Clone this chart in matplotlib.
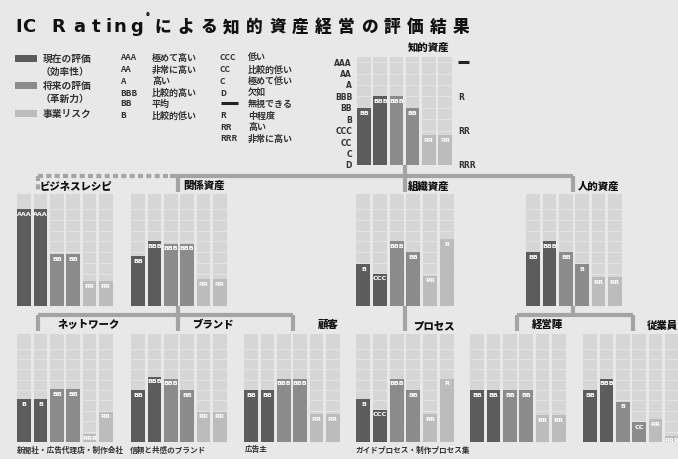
import numpy as np
import matplotlib
matplotlib.use('Agg')
import matplotlib.pyplot as plt
from matplotlib.patches import Rectangle

plt.rcParams['font.family'] = ['Noto Sans CJK JP', 'DejaVu Sans']

W, H = 678, 460

# --- data -------------------------------------------------------------
grade_scale = ['D', 'C', 'CC', 'CCC', 'B', 'BB', 'BBB', 'A', 'AA', 'AAA']
risk_scale = ['RRR', 'RR', 'R', '―']
risk_levels = [0, 3, 6, 9]

grade_codes = ['AAA', 'AA', 'A', 'BBB', 'BB', 'B']
grade_words = ['極めて高い', '非常に高い', '高い', '比較的高い', '平均', '比較的低い']
low_codes = ['CCC', 'CC', 'C', 'D', '―', 'R', 'RR', 'RRR']
low_words = ['低い', '比較的低い', '極めて低い', '欠如', '無視できる', '中程度', '高い', '非常に高い']

legend_names = ['現在の評価', '将来の評価', '事業リスク']
legend_notes = ['（効率性）', '（革新力）', '']

chart_names = ['知的資産', 'ビジネスレシピ', '関係資産', '組織資産', '人的資産',
               'ネットワーク', 'ブランド', '顧客', 'プロセス', '経営陣', '従業員']
chart_labels = [
    ['BB', 'BBB', 'BBB', 'BB', 'RR', 'RR'],
    ['AAA', 'AAA', 'BB', 'BB', 'RR', 'RR'],
    ['BB', 'BBB', 'BBB', 'BBB', 'RR', 'RR'],
    ['B', 'CCC', 'BBB', 'BB', 'RR', 'R'],
    ['BB', 'BBB', 'BB', 'B', 'RR', 'RR'],
    ['B', 'B', 'BB', 'BB', 'RRR', 'RR'],
    ['BB', 'BBB', 'BBB', 'BB', 'RR', 'RR'],
    ['BB', 'BB', 'BBB', 'BBB', 'RR', 'RR'],
    ['B', 'CCC', 'BBB', 'BB', 'RR', 'R'],
    ['BB', 'BB', 'BB', 'BB', 'RR', 'RR'],
    ['BB', 'BBB', 'B', 'CC', 'RR', 'RRR'],
]
chart_values = [
    [5.0, 6.0, 6.0, 5.0, 2.6, 2.6],
    [9.0, 9.0, 4.8, 4.8, 2.3, 2.3],
    [4.6, 6.0, 5.8, 5.8, 2.5, 2.5],
    [3.9, 3.0, 6.0, 5.0, 2.8, 6.2],
    [5.0, 6.0, 5.0, 3.9, 2.7, 2.7],
    [4.1, 4.1, 5.1, 5.1, 0.8, 2.9],
    [5.0, 6.3, 6.1, 5.0, 2.9, 2.9],
    [5.0, 5.0, 6.1, 6.1, 2.7, 2.7],
    [4.1, 3.1, 6.1, 5.0, 2.7, 6.1],
    [5.0, 5.0, 5.0, 5.0, 2.6, 2.6],
    [5.0, 6.1, 3.9, 1.9, 2.2, 0.6],
]
captions = ['新聞社・広告代理店・制作会社', '信頼と共感のブランド', '広告主',
            'ガイドプロセス・制作プロセス集']

# --- layout / style ---------------------------------------------------
PAGE = '#e8e8e8'
COL_BG = '#d6d6d6'
GRID = '#e4e4e4'
DARK, MID, LIGHT = '#5c5c5c', '#8b8b8b', '#bcbcbc'
LINE = '#a4a4a4'
bar_cols = [DARK, DARK, MID, MID, LIGHT, LIGHT]

# pixel boxes (left, top, width, height) and title anchors (left, centre y)
boxes = [(356, 58, 97, 108),
         (16, 195, 98, 112), (130, 195, 98, 112), (355, 195, 100, 112), (525, 195, 98, 112),
         (16, 335, 98, 108), (130, 335, 98, 108), (243, 335, 98, 108),
         (355, 335, 100, 108), (469, 335, 98, 108), (582, 335, 98, 108)]
title_pos = [(408, 48),
             (40, 186), (183, 186), (408, 187), (578, 187),
             (58, 325), (192, 325), (318, 325), (413, 326), (532, 325), (647, 326)]
caption_x = [17, 130, 245, 355]

fig = plt.figure(figsize=(W / 100, H / 100), dpi=100, facecolor=PAGE)
ax0 = fig.add_axes([0, 0, 1, 1])
ax0.set_xlim(0, W)
ax0.set_ylim(H, 0)
ax0.axis('off')
ax0.set_facecolor(PAGE)

# title, letter spaced
latin = ['I', 'C', 'R', 'a', 't', 'i', 'n', 'g']
latin_x = [18.5, 29, 58, 79, 96.5, 108.5, 120, 137]
for ch, x in zip(latin, latin_x):
    ax0.text(x, 27, ch, ha='center', va='center', fontsize=13, weight='bold',
             family='DejaVu Sans', color='#111111')
ax0.text(148, 17, '®', ha='center', va='center', fontsize=5.5, weight='bold')
for i, ch in enumerate('による知的資産経営の評価結果'):
    ax0.text(163 + 22.9 * i, 27, ch, ha='center', va='center', fontsize=12,
             weight='heavy', color='#111111')

# legend swatches
for (y, c), name, note in zip([(59, DARK), (86, MID), (114, LIGHT)], legend_names, legend_notes):
    ax0.add_patch(Rectangle((15, y - 3.5), 22, 7, color=c, lw=0))
    ax0.text(43, y, name, va='center', fontsize=7, weight='bold', color='#333333')
    if note:
        ax0.text(41, y + 13, note, va='center', fontsize=7, weight='bold', color='#333333')

# glossary
rows_y = [58, 70, 81, 93, 104, 116, 127, 139]
for y, code, word in zip(rows_y, grade_codes, grade_words):
    ax0.text(120, y, code, va='center', fontsize=6, weight='bold', color='#333333')
    ax0.text(152, y, word, va='center', fontsize=6.5, weight='bold', color='#333333')
for y, code, word in zip(rows_y, low_codes, low_words):
    if code == '―':
        ax0.plot([221, 238], [y, y], color='#222222', lw=2.2, solid_capstyle='butt')
    else:
        ax0.text(220, y, code, va='center', fontsize=6, weight='bold', color='#333333')
    ax0.text(248, y, word, va='center', fontsize=6.5, weight='bold', color='#333333')

# tree connectors
kw = dict(color=LINE, lw=3, solid_capstyle='butt', zorder=1)
segments = [((405, 166), (405, 177)), ((170, 177), (573, 177)),
            ((178, 177), (178, 193)), ((405, 177), (405, 193)), ((573, 177), (573, 193)),
            ((178, 307), (178, 316)), ((38, 316), (293, 316)),
            ((38, 316), (38, 332)), ((178, 316), (178, 332)), ((293, 316), (293, 332)),
            ((405, 307), (405, 332)),
            ((573, 307), (573, 316)), ((517, 316), (633, 316)),
            ((517, 316), (517, 332)), ((633, 316), (633, 332))]
for (x1, y1), (x2, y2) in segments:
    ax0.plot([x1, x2], [y1, y2], **kw)
ax0.plot([38, 170], [177, 177], color=LINE, lw=3, ls=(0, (1.2, 0.8)), zorder=1)
ax0.plot([38, 38], [177, 193], color=LINE, lw=3, ls=(0, (1.2, 0.8)), zorder=1)

# chart titles and captions
for name, (x, y) in zip(chart_names, title_pos):
    ax0.text(x, y, name, va='center', fontsize=7.5, weight='heavy', color='#111111')
for x, cap in zip(caption_x, captions):
    ax0.text(x, 450, cap, va='center', fontsize=5.5, weight='bold', color='#333333')


def draw_chart(box, values, labels, top):
    left, ytop, w, h = box
    ax = fig.add_axes([left / W, 1 - (ytop + h) / H, w / W, h / H])
    ax.set_facecolor('none')
    ax.set_xlim(-0.5, 5.5)
    ax.set_ylim(0, top)
    ax.axis('off')
    x = np.arange(6)
    ax.bar(x, [top] * 6, width=0.84, color=COL_BG, zorder=1)
    for lv in range(1, 10):
        ax.hlines(np.full(6, lv), x - 0.42, x + 0.42, color=GRID, lw=0.7, zorder=2)
    ax.bar(x, values, width=0.84, color=bar_cols, zorder=3)
    for xi, v, lab in zip(x, values, labels):
        ax.text(xi, v - 0.15, lab, ha='center', va='top', fontsize=4.6,
                color='white', weight='bold', zorder=4, family='DejaVu Sans')
    return ax


for i, (box, vals, labs) in enumerate(zip(boxes, chart_values, chart_labels)):
    draw_chart(box, vals, labs, 9.45 if i == 0 else 10.4)

# rating axes of the top chart
left, ytop, w, h = boxes[0]
unit = h / 9.45
for lv, g in enumerate(grade_scale):
    ax0.text(352, ytop + h - lv * unit, g, ha='right', va='center', fontsize=5.5,
             weight='bold', color='#333333', family='DejaVu Sans')
for lv, r in zip(risk_levels, risk_scale):
    y = ytop + h - lv * unit
    if r == '―':
        ax0.plot([458, 469], [y, y], color='#222222', lw=2.2, solid_capstyle='butt')
    else:
        ax0.text(458, y, r, ha='left', va='center', fontsize=5.5, weight='bold',
                 color='#333333', family='DejaVu Sans')

fig.savefig('out.png', dpi=100, facecolor=PAGE)
